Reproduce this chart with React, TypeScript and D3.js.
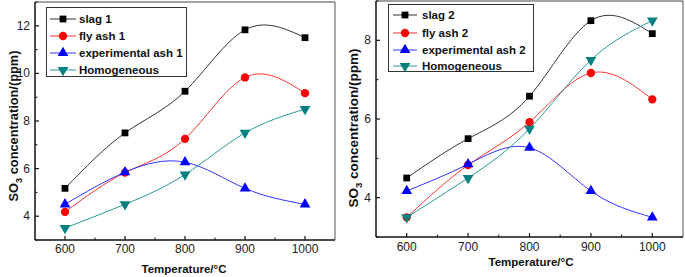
import React from "react";
import * as d3 from "d3";

const temps = [600, 700, 800, 900, 1000];
const xTicks = [600, 700, 800, 900, 1000];
const xMinor = [650, 750, 850, 950];

const slag1 = [5.17, 7.5, 9.25, 11.83, 11.5];
const flyAsh1 = [4.18, 5.83, 7.25, 9.83, 9.17];
const expAsh1 = [4.5, 5.85, 6.27, 5.17, 4.5];
const homo1 = [3.5, 4.5, 5.75, 7.5, 8.5];
const yTicks1 = [4, 6, 8, 10, 12];
const yMinor1 = [3, 5, 7, 9, 11, 13];

const slag2 = [4.5, 5.5, 6.58, 8.5, 8.17];
const flyAsh2 = [3.5, 4.83, 5.92, 7.17, 6.5];
const expAsh2 = [4.17, 4.85, 5.27, 4.17, 3.5];
const homo2 = [3.5, 4.5, 5.75, 7.5, 8.5];
const yTicks2 = [4, 6, 8];
const yMinor2 = [3, 5, 7, 9];

const names1 = ["slag 1", "fly ash 1", "experimental ash 1", "Homogeneous"];
const names2 = ["slag 2", "fly ash 2", "experimental ash 2", "Homogeneous"];

const colors = ["#000000", "#ff0000", "#0000ff", "#008080"];
const lineColors = ["#333333", "#ff3333", "#3333ff", "#2a9a9a"];
const shapes = ["square", "circle", "triangle", "down"];

function markerPath(shape: string) {
  if (shape === "square") return d3.symbol().type(d3.symbolSquare).size(46)()!;
  if (shape === "circle") return d3.symbol().type(d3.symbolCircle).size(54)()!;
  return d3.symbol().type(d3.symbolTriangle).size(50)()!;
}

function Marker({ x, y, shape, color }: { x: number; y: number; shape: string; color: string }) {
  const rot = shape === "down" ? " rotate(180)" : "";
  return <path d={markerPath(shape)} transform={`translate(${x},${y})${rot}`} fill={color} />;
}

type PanelProps = {
  left: number; right: number; top: number; bottom: number;
  yDomain: [number, number]; yTicks: number[]; yMinor: number[];
  series: number[][]; names: string[];
  legend: { x: number; y: number; w: number; h: number; rows: number[]; lx0: number; lx1: number; tx: number };
  yTitle: { x: number; y: number; size: number };
  xTitle: { x: number; y: number };
  xLabelY: number;
};

function Panel(p: PanelProps) {
  const x = d3.scaleLinear().domain([550, 1050]).range([p.left, p.right]);
  const y = d3.scaleLinear().domain(p.yDomain).range([p.bottom, p.top]);
  const line = d3.line<number>().x((_, i) => x(temps[i])).y((v) => y(v)).curve(d3.curveNatural);
  const font = "Arial, 'Liberation Sans', sans-serif";
  return (
    <g fontFamily={font}>
      <line x1={p.left} x2={p.right} y1={p.top} y2={p.top} stroke="#444" strokeWidth={1} />
      <line x1={p.right} x2={p.right} y1={p.top} y2={p.bottom} stroke="#555" strokeWidth={1} />
      <line x1={p.left} x2={p.left} y1={p.top} y2={p.bottom} stroke="#111" strokeWidth={1.5} />
      <line x1={p.left} x2={p.right} y1={p.bottom} y2={p.bottom} stroke="#111" strokeWidth={1.5} />
      {xTicks.map((t) => (
        <g key={"xt" + t}>
          <line x1={x(t)} x2={x(t)} y1={p.bottom} y2={p.bottom - 4} stroke="#111" strokeWidth={1.2} />
          <text x={x(t)} y={p.xLabelY} fontSize={12} textAnchor="middle" fill="#222">{t}</text>
        </g>
      ))}
      {xMinor.map((t) => (
        <line key={"xm" + t} x1={x(t)} x2={x(t)} y1={p.bottom} y2={p.bottom - 2.5} stroke="#111" strokeWidth={1} />
      ))}
      {p.yTicks.map((t) => (
        <g key={"yt" + t}>
          <line x1={p.left} x2={p.left + 4} y1={y(t)} y2={y(t)} stroke="#111" strokeWidth={1.2} />
          <text x={p.left - 5} y={y(t) + 4} fontSize={12} textAnchor="end" fill="#222">{t}</text>
        </g>
      ))}
      {p.yMinor.map((t) => (
        <line key={"ym" + t} x1={p.left} x2={p.left + 2.5} y1={y(t)} y2={y(t)} stroke="#111" strokeWidth={1} />
      ))}
      {p.series.map((s, i) => (
        <path key={"l" + i} d={line(s)!} fill="none" stroke={lineColors[i]} strokeWidth={1} />
      ))}
      {p.series.map((s, i) =>
        s.map((v, j) => <Marker key={"m" + i + "-" + j} x={x(temps[j])} y={y(v)} shape={shapes[i]} color={colors[i]} />)
      )}
      <rect x={p.legend.x} y={p.legend.y} width={p.legend.w} height={p.legend.h} fill="#fff" stroke="#333" strokeWidth={1} />
      {p.names.map((n, i) => (
        <g key={"lg" + i}>
          <line x1={p.legend.lx0} x2={p.legend.lx1} y1={p.legend.rows[i]} y2={p.legend.rows[i]} stroke={lineColors[i]} strokeWidth={1} />
          <Marker x={(p.legend.lx0 + p.legend.lx1) / 2} y={p.legend.rows[i]} shape={shapes[i]} color={colors[i]} />
          <text x={p.legend.tx} y={p.legend.rows[i] + 4} fontSize={11.5} fontWeight="bold" fill="#111">{n}</text>
        </g>
      ))}
      <text transform={`translate(${p.yTitle.x},${p.yTitle.y}) rotate(-90)`} textAnchor="middle" fontSize={p.yTitle.size} fontWeight="bold" fill="#111">
        SO<tspan dy={3.5} fontSize={p.yTitle.size * 0.72}>3</tspan><tspan dy={-3.5}> concentration/(ppm)</tspan>
      </text>
      <text x={p.xTitle.x} y={p.xTitle.y} textAnchor="middle" fontSize={11.5} fontWeight="bold" fill="#111">Temperature/°C</text>
    </g>
  );
}

export default function App() {
  return (
    <svg width={685} height={277} style={{ position: "absolute", left: 0, top: 0, background: "#fff" }}>
      <Panel
        left={35} right={335} top={2} bottom={240}
        yDomain={[3, 13]} yTicks={yTicks1} yMinor={yMinor1}
        series={[slag1, flyAsh1, expAsh1, homo1]} names={names1}
        legend={{ x: 46.5, y: 7.5, w: 140, h: 69, rows: [19, 36, 53, 70], lx0: 50, lx1: 76, tx: 79 }}
        yTitle={{ x: 18, y: 126, size: 12.8 }}
        xTitle={{ x: 184, y: 273 }}
        xLabelY={253}
      />
      <Panel
        left={376} right={683} top={1} bottom={237}
        yDomain={[3, 9]} yTicks={yTicks2} yMinor={yMinor2}
        series={[slag2, flyAsh2, expAsh2, homo2]} names={names2}
        legend={{ x: 388.5, y: 4.5, w: 145, h: 67, rows: [15, 33, 50, 66], lx0: 393, lx1: 417, tx: 422 }}
        yTitle={{ x: 358, y: 128, size: 13.5 }}
        xTitle={{ x: 531, y: 266 }}
        xLabelY={251}
      />
    </svg>
  );
}
